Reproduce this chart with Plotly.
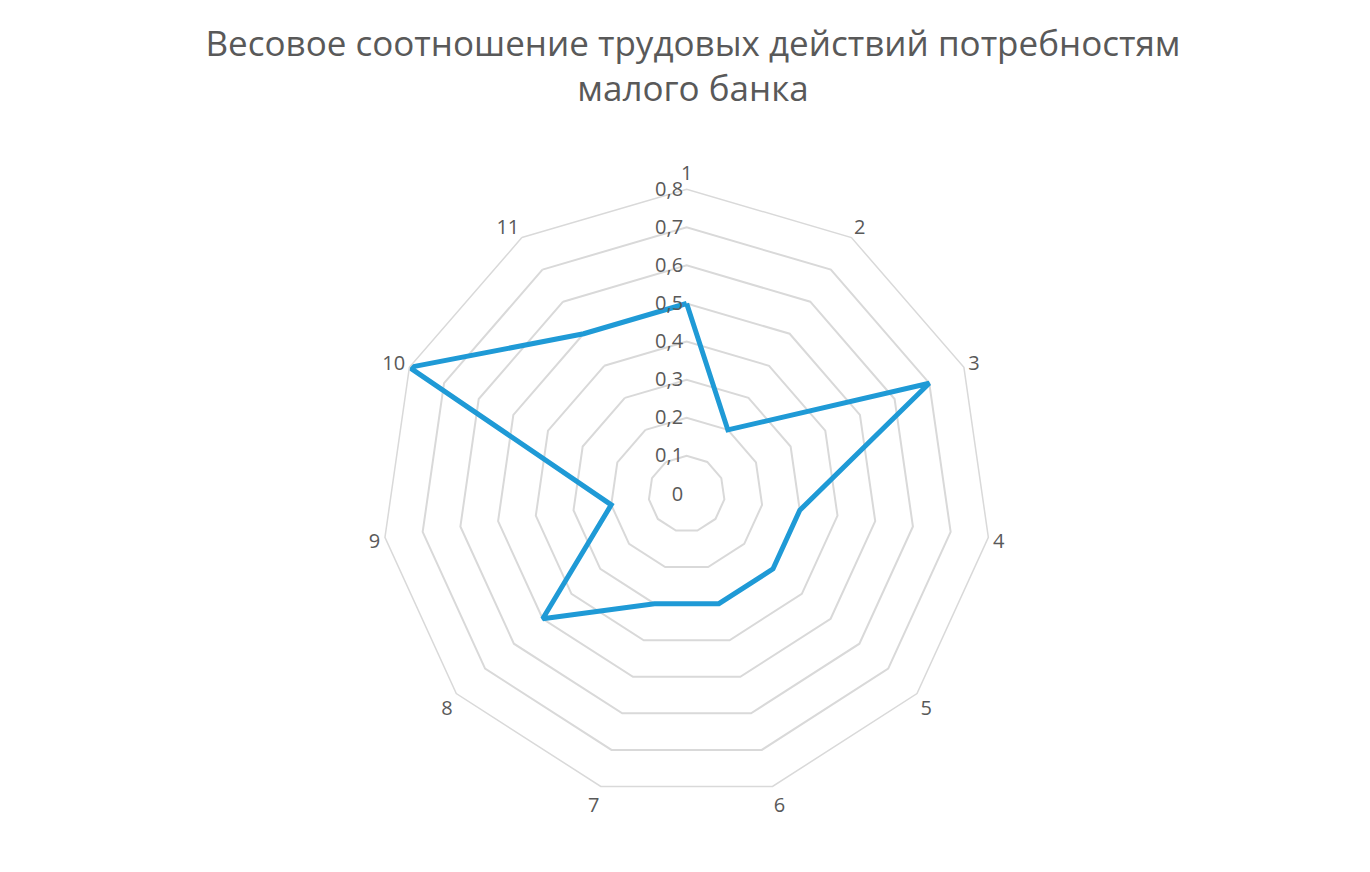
import plotly.graph_objects as go

categories = ["1", "2", "3", "4", "5", "6", "7", "8", "9", "10", "11"]
values = [0.5, 0.2, 0.7, 0.3, 0.3, 0.3, 0.3, 0.5, 0.2, 0.8, 0.5]
radial_ticks = [0, 0.1, 0.2, 0.3, 0.4, 0.5, 0.6, 0.7, 0.8]
radial_labels = ["0", "0,1", "0,2", "0,3", "0,4", "0,5", "0,6", "0,7", "0,8"]

fig = go.Figure(
    go.Scatterpolar(
        r=values + values[:1],
        theta=categories + categories[:1],
        mode="lines",
        line=dict(color="#1f9ad6", width=5),
        showlegend=False,
    )
)

fig.update_layout(
    width=1370,
    height=872,
    paper_bgcolor="white",
    font=dict(family="Open Sans", color="#595959", size=20),
    title=dict(
        text="Весовое соотношение трудовых действий потребностям<br>малого банка",
        x=0.5,
        y=0.945,
        xanchor="center",
        font=dict(size=35, color="#595959"),
    ),
    margin=dict(t=150, b=50, l=50, r=50),
    polar=dict(
        bgcolor="white",
        domain=dict(x=[0.255, 0.735], y=[0.02, 0.98]),
        gridshape="linear",
        radialaxis=dict(
            range=[0, 0.8],
            tickvals=radial_ticks,
            ticktext=radial_labels,
            angle=90,
            tickangle=90,
            side="counterclockwise",
            showline=False,
            ticks="",
            gridcolor="#d9d9d9",
            gridwidth=1.5,
            tickfont=dict(size=20, color="#595959"),
        ),
        angularaxis=dict(
            direction="clockwise",
            rotation=90,
            showgrid=False,
            showline=True,
            linecolor="#d9d9d9",
            linewidth=1.5,
            ticks="",
            tickfont=dict(size=20, color="#595959"),
        ),
    ),
)

fig.write_html("out.html")
